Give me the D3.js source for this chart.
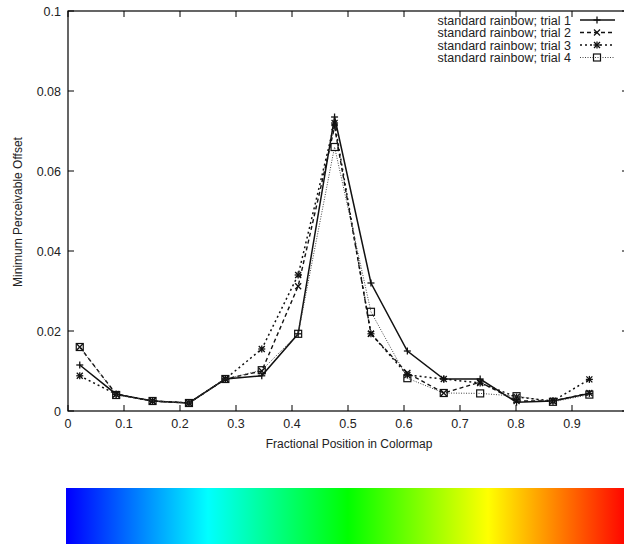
<!DOCTYPE html>
<html><head><meta charset="utf-8">
<script src="https://cdn.jsdelivr.net/npm/d3@7"></script>
<style>body{margin:0;background:#fff}svg{display:block}</style>
</head><body>
<script>
const positions = [0.021,0.086,0.151,0.216,0.281,0.346,0.411,0.476,0.541,0.606,0.671,0.736,0.801,0.866,0.931];
const trial1 = [0.0115,0.0042,0.0025,0.0020,0.0080,0.0088,0.0193,0.0735,0.0320,0.0150,0.0080,0.0080,0.0022,0.0025,0.0044];
const trial2 = [0.0160,0.0042,0.0025,0.0020,0.0080,0.0100,0.0312,0.0710,0.0193,0.0095,0.0045,0.0072,0.0025,0.0025,0.0045];
const trial3 = [0.0088,0.0042,0.0025,0.0020,0.0080,0.0155,0.0340,0.0720,0.0193,0.0090,0.0080,0.0070,0.0035,0.0025,0.0079];
const trial4 = [0.0160,0.0040,0.0025,0.0020,0.0080,0.0102,0.0193,0.0660,0.0248,0.0082,0.0045,0.0044,0.0037,0.0023,0.0041];
const seriesNames = ["standard rainbow; trial 1","standard rainbow; trial 2","standard rainbow; trial 3","standard rainbow; trial 4"];
const xTicks = [0,0.1,0.2,0.3,0.4,0.5,0.6,0.7,0.8,0.9,1];
const xTickLabels = ["0","0.1","0.2","0.3","0.4","0.5","0.6","0.7","0.8","0.9",""];
const yTicks = [0,0.02,0.04,0.06,0.08,0.1];
const yTickLabels = ["0","0.02","0.04","0.06","0.08","0.1"];
const rainbowStops = ["#0000ff","#00ffff","#00ff00","#ffff00","#ff0000"];

const W = 624, H = 544;
const svg = d3.select("body").append("svg").attr("width", W).attr("height", H);
const x = d3.scaleLinear().domain([0,1]).range([68,628]);
const y = d3.scaleLinear().domain([0,0.1]).range([411,11]);
const font = "Liberation Sans, Arial, sans-serif";

// ticks (inward, mirrored)
const tl = 6;
const g = svg.append("g").attr("stroke","#000").attr("stroke-width",1);
xTicks.forEach(t => {
  g.append("line").attr("x1",x(t)).attr("x2",x(t)).attr("y1",y(0)).attr("y2",y(0)-tl);
  g.append("line").attr("x1",x(t)).attr("x2",x(t)).attr("y1",y(0.1)).attr("y2",y(0.1)+tl);
});
yTicks.forEach(t => {
  g.append("line").attr("x1",x(0)).attr("x2",x(0)+tl).attr("y1",y(t)).attr("y2",y(t));
  g.append("line").attr("x1",x(1)).attr("x2",x(1)-tl).attr("y1",y(t)).attr("y2",y(t));
});
// border
svg.append("rect").attr("x",x(0)).attr("y",y(0.1)).attr("width",x(1)-x(0)).attr("height",y(0)-y(0.1))
  .attr("fill","none").attr("stroke","#000").attr("stroke-width",1.2);

// tick labels
svg.append("g").selectAll("text").data(xTicks).join("text")
  .attr("x", d => x(d)).attr("y", 428).attr("text-anchor","middle")
  .attr("font-family",font).attr("font-size",12.5).attr("fill","#222").text((d,i) => xTickLabels[i]);
svg.append("g").selectAll("text").data(yTicks).join("text")
  .attr("x", 61).attr("y", d => y(d)+4.5).attr("text-anchor","end")
  .attr("font-family",font).attr("font-size",12.5).attr("fill","#222").text((d,i) => yTickLabels[i]);

// axis titles
svg.append("text").attr("x", 349).attr("y", 448).attr("text-anchor","middle")
  .attr("font-family",font).attr("font-size",12).attr("fill","#222").text("Fractional Position in Colormap");
svg.append("text").attr("transform","translate(22,212) rotate(-90)").attr("text-anchor","middle")
  .attr("font-family",font).attr("font-size",12).attr("fill","#222").text("Minimum Perceivable Offset");

// series
const styles = [
  {dash:null, w:1.5, color:"#111", marker:"plus"},
  {dash:"4,3", w:1.4, color:"#111", marker:"cross"},
  {dash:"2,3", w:1.5, color:"#111", marker:"star"},
  {dash:"1,1.5", w:1, color:"#444", marker:"square"}
];
const allData = [trial1, trial2, trial3, trial4];
const line = d3.line().x(d => x(d[0])).y(d => y(d[1]));

function drawMarker(sel, type, cx, cy, color) {
  const s = 3.5;
  const m = sel.append("g").attr("stroke", color).attr("fill","none").attr("stroke-width",1.3);
  if (type === "plus" || type === "star") {
    m.append("line").attr("x1",cx-s).attr("x2",cx+s).attr("y1",cy).attr("y2",cy);
    m.append("line").attr("x1",cx).attr("x2",cx).attr("y1",cy-s).attr("y2",cy+s);
  }
  if (type === "cross" || type === "star") {
    const c = 3;
    m.append("line").attr("x1",cx-c).attr("x2",cx+c).attr("y1",cy-c).attr("y2",cy+c);
    m.append("line").attr("x1",cx-c).attr("x2",cx+c).attr("y1",cy+c).attr("y2",cy-c);
  }
  if (type === "square") {
    m.append("rect").attr("x",cx-3.5).attr("y",cy-3.5).attr("width",7).attr("height",7).attr("stroke-width",1.2);
  }
}

allData.forEach((vals, i) => {
  const st = styles[i];
  const pts = positions.map((p, k) => [p, vals[k]]);
  svg.append("path").datum(pts).attr("d", line).attr("fill","none")
    .attr("stroke", st.color).attr("stroke-width", st.w)
    .attr("stroke-dasharray", st.dash);
  pts.forEach(p => drawMarker(svg, st.marker, x(p[0]), y(p[1]), "#111"));
});

// legend
seriesNames.forEach((name, i) => {
  const st = styles[i];
  const ly = 20 + i * 12.5;
  svg.append("text").attr("x", 571).attr("y", ly + 4.5).attr("text-anchor","end")
    .attr("font-family",font).attr("font-size",12.5).attr("fill","#222").text(name);
  svg.append("line").attr("x1",580).attr("x2",615).attr("y1",ly).attr("y2",ly)
    .attr("stroke", st.color).attr("stroke-width", st.w).attr("stroke-dasharray", st.dash);
  drawMarker(svg, st.marker, 597, ly, "#111");
});

// rainbow colorbar
const defs = svg.append("defs");
const grad = defs.append("linearGradient").attr("id","rainbow")
  .attr("gradientUnits","userSpaceOnUse").attr("x1",x(0)).attr("x2",x(1)).attr("y1",0).attr("y2",0);
rainbowStops.forEach((c, i) => grad.append("stop").attr("offset", i/(rainbowStops.length-1)).attr("stop-color", c));
svg.append("rect").attr("x", x(0)-2).attr("y", 488).attr("width", x(1)-x(0)+2).attr("height", 56)
  .attr("fill","url(#rainbow)");
</script>
</body></html>
